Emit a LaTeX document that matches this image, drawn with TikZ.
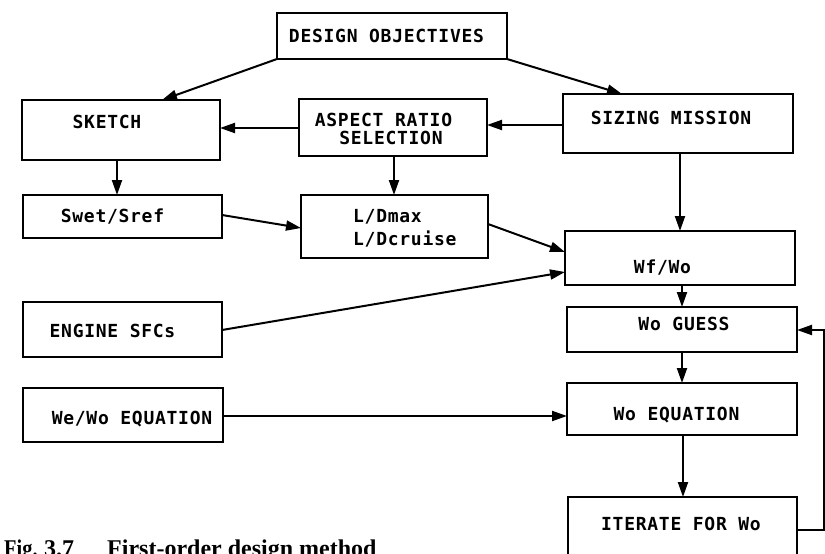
\documentclass[tikz,border=0pt]{standalone}
\usepackage{fontspec}
\newfontfamily\plotfont[LetterSpace=4]{DejaVu Sans Mono}
\newfontfamily\capfont{Liberation Serif}
\usetikzlibrary{arrows.meta}
\begin{document}
\begin{tikzpicture}[x=1pt,y=-1pt,
  box/.style={draw,line width=2.5pt,inner sep=0pt,outer sep=0pt},
  txt/.style={inner sep=0pt,anchor=base,font=\plotfont\bfseries\fontsize{18}{21}\selectfont},
  captxt/.style={inner sep=0pt,anchor=base west,font=\capfont\bfseries\fontsize{24}{28}\selectfont},
  arr/.style={line width=2pt,-{Triangle[length=15pt,width=10pt]}},
  ln/.style={line width=2pt}]
\clip (0,0) rectangle (825,554);
\fill[white] (0,0) rectangle (825,554);
% boxes
\node[box,minimum width=230pt,minimum height=46pt] (obj) at (392,36) {};
\node[box,minimum width=198pt,minimum height=60pt] (sketch) at (121,130) {};
\node[box,minimum width=188pt,minimum height=57pt] (aspect) at (393,127.5) {};
\node[box,minimum width=230pt,minimum height=59pt] (sizing) at (678,123.5) {};
\node[box,minimum width=199pt,minimum height=43pt] (swet) at (122.5,216.5) {};
\node[box,minimum width=187pt,minimum height=63pt] (ld) at (394.5,226.5) {};
\node[box,minimum width=230pt,minimum height=54pt] (wf) at (680,258) {};
\node[box,minimum width=230pt,minimum height=45pt] (guess) at (682,329.5) {};
\node[box,minimum width=230pt,minimum height=52pt] (eq) at (682,409) {};
\node[box,minimum width=229pt,minimum height=73pt] (iter) at (682.5,533.5) {};
\node[box,minimum width=199pt,minimum height=55pt] (engine) at (122.5,329.5) {};
\node[box,minimum width=200pt,minimum height=54pt] (wewo) at (123,415) {};
% texts
\node[txt] (tobj) at (386.5,42) {DESIGN OBJECTIVES};
\node[txt] (tsketch) at (107,128) {SKETCH};
\node[txt] (tasp1) at (383.5,126) {ASPECT RATIO};
\node[txt] (tasp2) at (391,144) {SELECTION};
\node[txt] (tsiz) at (671,124) {SIZING MISSION};
\node[txt] (tswet) at (112.5,222) {Swet/Sref};
\node[txt,anchor=base west] (tld1) at (353,222) {L/Dmax};
\node[txt,anchor=base west] (tld2) at (353,245) {L/Dcruise};
\node[txt] (twf) at (662.5,273) {Wf/Wo};
\node[txt] (tguess) at (684,330) {Wo GUESS};
\node[txt] (teq) at (676.5,420) {Wo EQUATION};
\node[txt] (titer) at (681,530) {ITERATE FOR Wo};
\node[txt] (teng) at (112.5,337) {ENGINE SFCs};
\node[txt] (twewo) at (132,424) {We/Wo EQUATION};
% caption
\node[captxt,xscale=0.85] (capa) at (4,556) {Fig.};
\node[captxt] (capb) at (44,556) {3.7};
\node[captxt] (capc) at (107,556) {First-order design method};
% connectors
\draw[arr] (obj.south west) -- (sketch.north west -| 162,0);
\draw[arr] (obj.south east) -- (sizing.north west -| 622,0);
\draw[arr] (aspect.west |- 0,128) -- (sketch.east |- 0,128);
\draw[arr] (sizing.west |- 0,125) -- (aspect.east |- 0,125);
\draw[arr] (sketch.south -| 117,0) -- (swet.north -| 117,0);
\draw[arr] (aspect.south -| 394,0) -- (ld.north -| 394,0);
\draw[arr] (swet.east |- 0,215) -- (ld.west |- 0,228);
\draw[arr] (ld.east |- 0,224) -- (wf.west |- 0,252);
\draw[arr] (engine.east |- 0,330) -- (wf.west |- 0,272);
\draw[arr] (sizing.south -| 680,0) -- (wf.north -| 680,0);
\draw[arr] (wf.south -| 682,0) -- (guess.north -| 682,0);
\draw[arr] (guess.south -| 682,0) -- (eq.north -| 682,0);
\draw[arr] (wewo.east |- 0,416) -- (eq.west |- 0,416);
\draw[arr] (eq.south -| 683,0) -- (iter.north -| 683,0);
\coordinate (lb) at (824,530);
\coordinate (lt) at (824,330);
\draw[arr] (iter.east |- lb) -- (lb) -- (lt) -- (guess.east |- lt);
\end{tikzpicture}
\end{document}
